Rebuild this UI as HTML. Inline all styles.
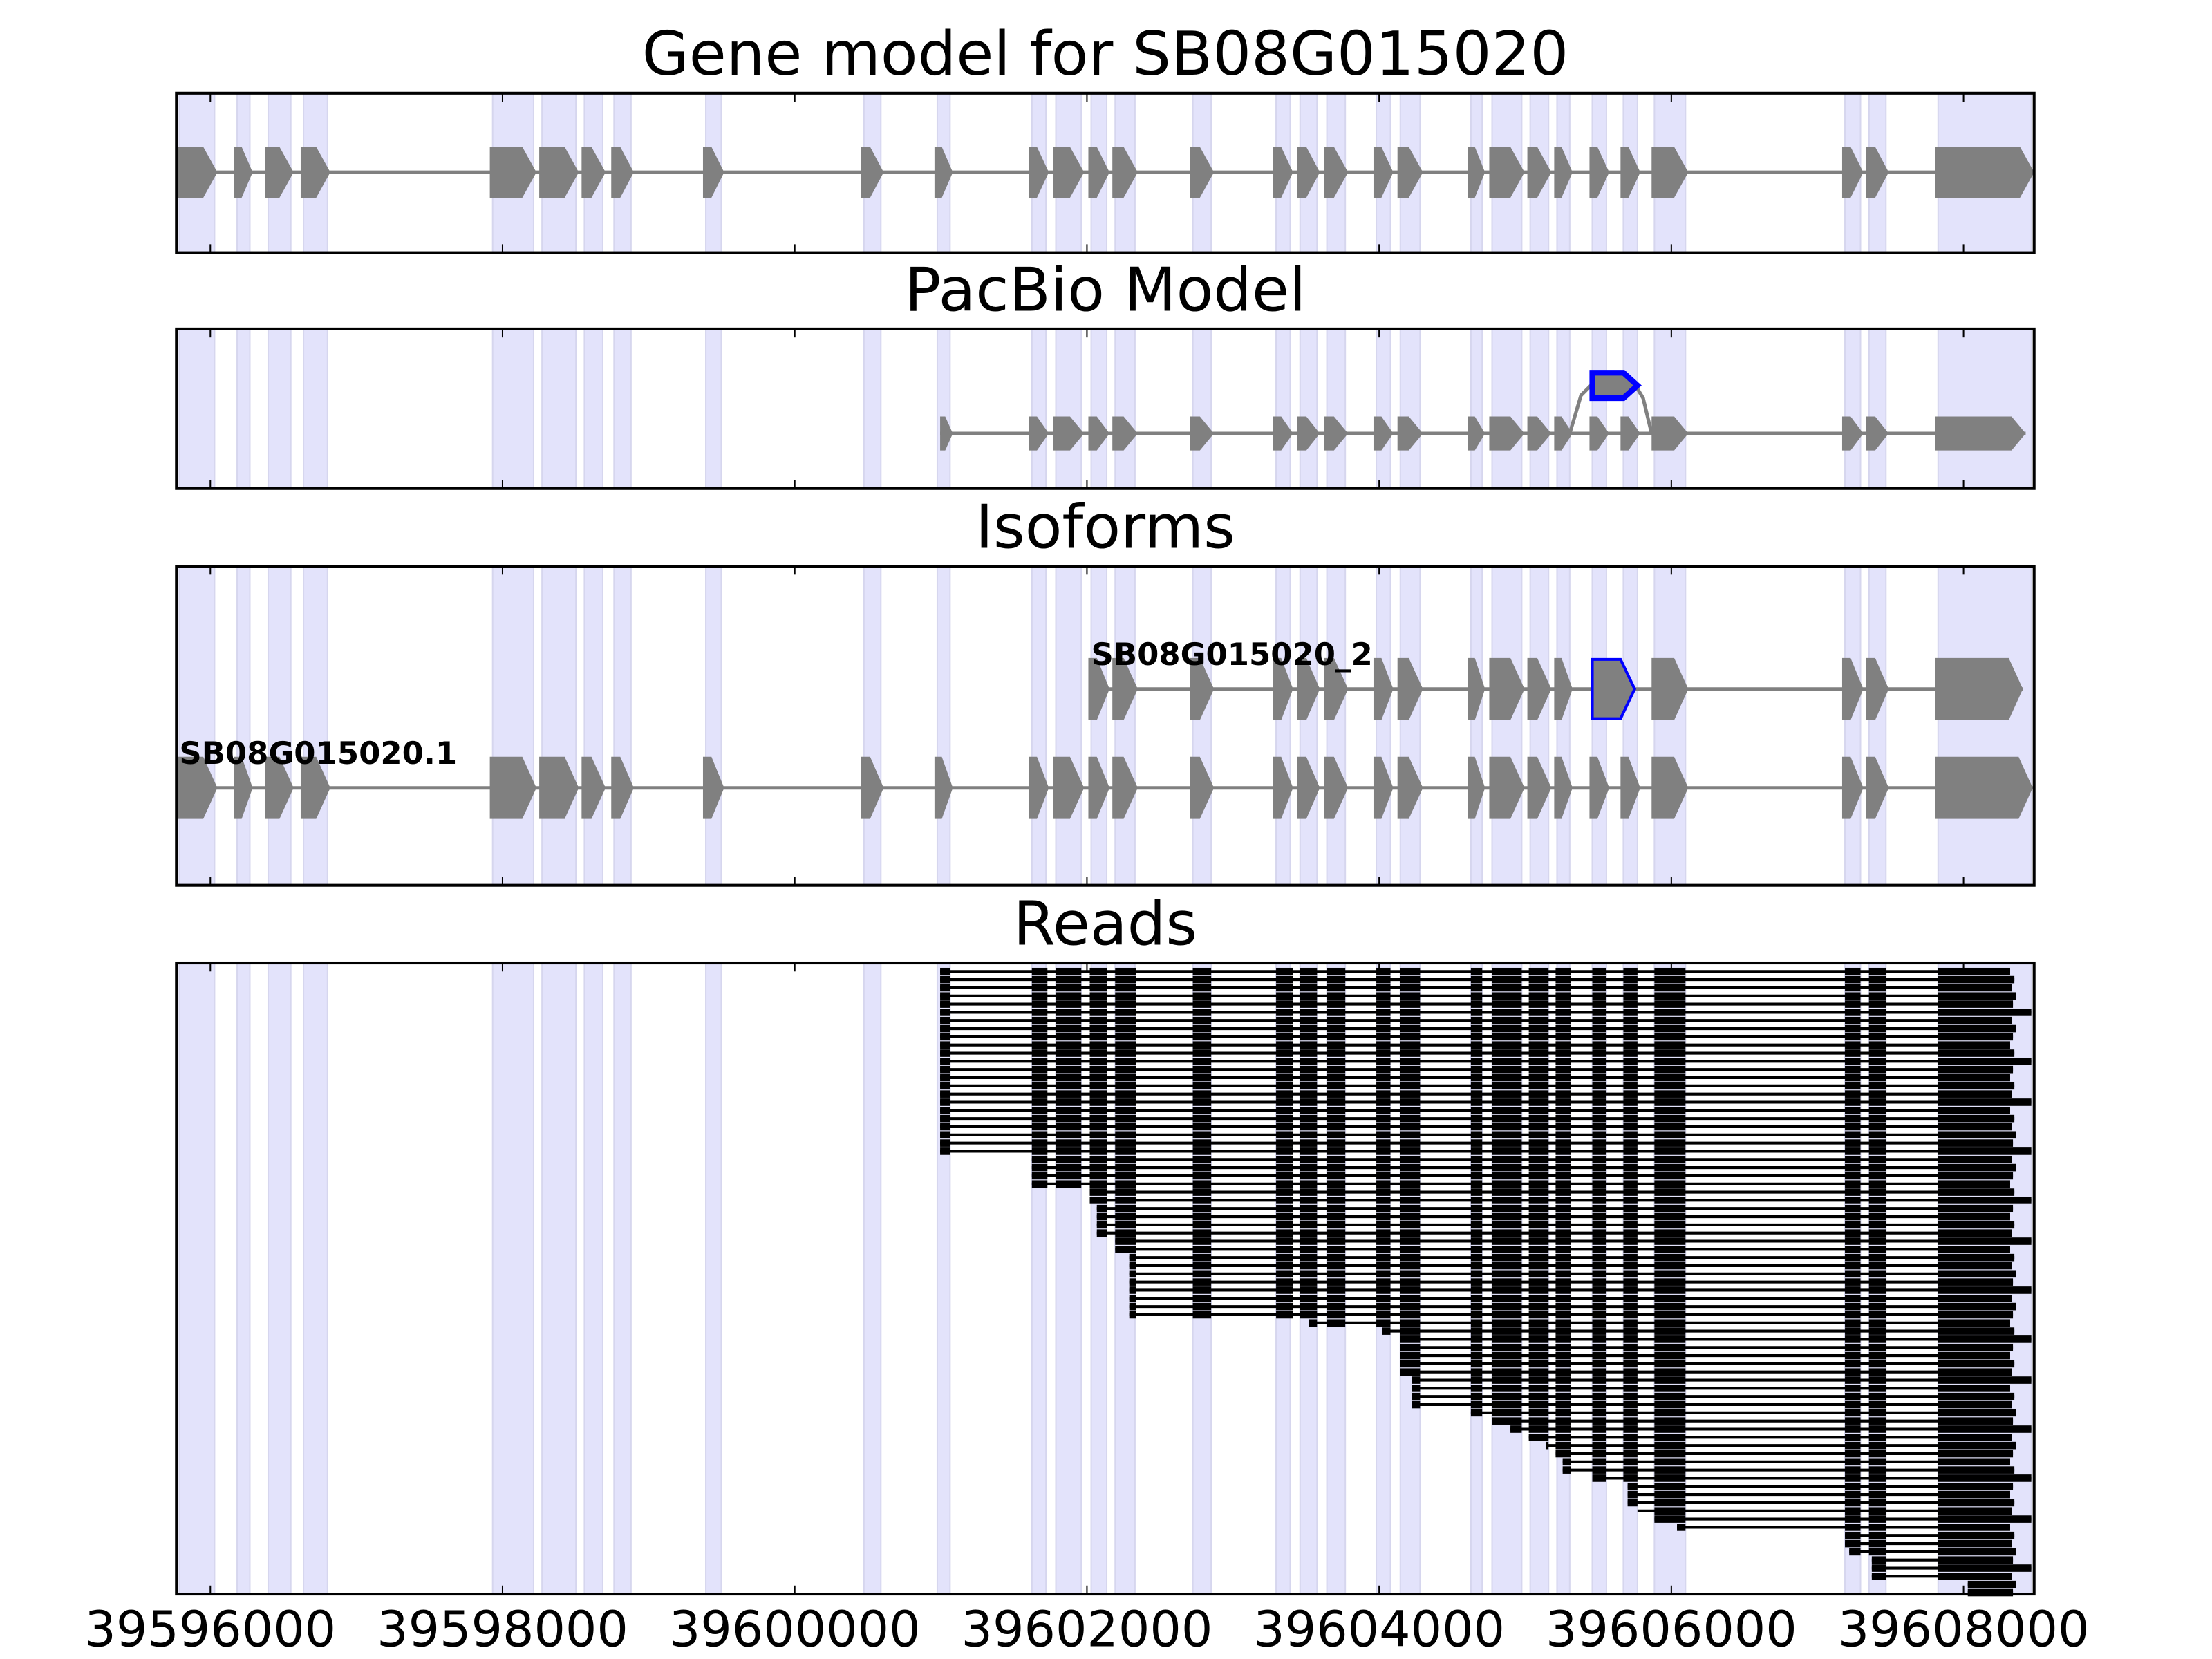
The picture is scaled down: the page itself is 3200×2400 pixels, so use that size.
<!DOCTYPE html>
<html><head><meta charset="utf-8"><style>html,body{margin:0;padding:0;background:#fff}svg{display:block}</style></head>
<body>
<svg id="s" xmlns="http://www.w3.org/2000/svg" width="3200" height="2400" viewBox="0 0 1567 1175" preserveAspectRatio="none" font-family="DejaVu Sans, Liberation Sans, sans-serif"></svg>
<script>
const S=document.getElementById('s');let h='';
const EX=[[125,154],[166,179],[188,208],[213,234],[347,380],[382,410],[412,429],[433,449],[498,513],[610,626],[662,675],[729,743],[746,768],[771,786],[788,806],[843,860],[902,916],[919,935],[938,955],[973,987],[990,1008],[1040,1052],[1055,1080],[1082,1099],[1101,1114],[1126,1140],[1148,1162],[1170,1196],[1305,1320],[1322,1338],[1371,1441]];
const P=[[66,179],[233,346],[401,627],[682,1129]];
const TX=[149,356,563,770,977,1184,1391],TL=['39596000','39598000','39600000','39602000','39604000','39606000','39608000'];
const T=[['Gene model for SB08G015020',53],['PacBio Model',220],['Isoforms',388],['Reads',669]];
function ex(a,b,c,hh,fill,stroke,sw){const w=b-a,hd=Math.min(10,w*0.6),t=c-hh/2,bt=c+hh/2;return `<polygon points="${a},${t} ${b-hd},${t} ${b},${c} ${b-hd},${bt} ${a},${bt}" fill="${fill}" stroke="${stroke||'none'}" stroke-width="${sw||0}"/>`;}
P.forEach(([y0,y1],i)=>{
 EX.forEach(([a,b])=>{const l=Math.max(a+2,127),r=Math.min(b-2,1440);h+=`<rect x="${l}" y="${y0}" width="${r-l}" height="${y1-y0}" fill="#e3e3fb" stroke="#d6d6ee" stroke-width="1"/>`;});
});
h+=`<line x1="125" y1="122" x2="1441" y2="122" stroke="#808080" stroke-width="2.5"/>`;
EX.forEach(([a,b])=>h+=ex(a,b,122,36,'#808080'));
const E2=EX.filter(e=>e[0]>=662);
h+=`<line x1="666" y1="307" x2="1435" y2="307" stroke="#808080" stroke-width="2.5"/>`;
E2.forEach(([a,b])=>{let aa=a==662?666:a,bb=b==1441?1435:b;h+=ex(aa,bb,307,24,'#808080');});
h+=`<polyline points="1112,307 1120,280 1128,272" fill="none" stroke="#808080" stroke-width="2.5"/><polyline points="1158,272 1164,282 1170,307" fill="none" stroke="#808080" stroke-width="2.5"/>`;
h+=ex(1128,1160,273,18,'#808080','#0000ff',4);
h+=`<line x1="772" y1="488" x2="1433" y2="488" stroke="#808080" stroke-width="2.5"/>`;
EX.filter(e=>e[0]>=771&&e[0]!=1126&&e[0]!=1148).forEach(([a,b])=>{let bb=b==1441?1433:b;h+=ex(a,bb,488,44,'#808080');});
h+=ex(1128,1158,488,42,'#808080','#0000ff',2);
h+=`<line x1="125" y1="558" x2="1440" y2="558" stroke="#808080" stroke-width="2.5"/>`;
EX.forEach(([a,b])=>{let bb=b==1441?1440:b;h+=ex(a,bb,558,44,'#808080');});
h+=`<text x="773" y="471" font-size="22" font-weight="bold">SB08G015020_2</text><text x="127" y="541" font-size="22" font-weight="bold">SB08G015020.1</text>`;
const starts=[];for(let i=0;i<23;i++)starts.push(666);
[731,731,731,731,772,772,777,777,777,777,790,790,800,800,800,800,800,800,800,800,927,979,992,992,992,992,992,1000,1000,1000,1000,1042,1057,1070,1083,1095,1102,1107,1107,1128,1153,1153,1153,1160,1172,1188,1307,1307,1310,1326,1326,1326,1394,1394].forEach(v=>starts.push(v));
const N=starts.length,sp=(1128-688)/(N-1);
const RE=[[666,673],[731,742],[748,766],[772,784],[790,805],[845,858],[904,916],[921,933],[940,953],[975,985],[992,1006],[1042,1050],[1057,1078],[1083,1097],[1102,1113],[1128,1138],[1150,1160],[1172,1194],[1307,1318],[1324,1336]];
for(let i=0;i<N;i++){const y=688+i*sp,s=starts[i];const r=(i*37)%17;const e=r>13?1439:1424+(r%5);
 h+=`<line x1="${s}" y1="${y}" x2="${e}" y2="${y}" stroke="#000" stroke-width="2"/>`;
 RE.forEach(([a,b])=>{if(b<s)return;const aa=Math.max(a,s);h+=`<rect x="${aa}" y="${y-2.6}" width="${b-aa}" height="5.2" fill="#000"/>`;});
 h+=`<rect x="${Math.max(1373,s)}" y="${y-2.6}" width="${e-Math.max(1373,s)}" height="5.2" fill="#000"/>`;
}
P.forEach(([y0,y1],i)=>{
 h+=`<rect x="125" y="${y0}" width="1316" height="${y1-y0}" fill="none" stroke="#000" stroke-width="2"/>`;
 TX.forEach(x=>h+=`<line x1="${x}" y1="${y0}" x2="${x}" y2="${y0+6}" stroke="#000" stroke-width="1"/><line x1="${x}" y1="${y1}" x2="${x}" y2="${y1-6}" stroke="#000" stroke-width="1"/>`);
 h+=`<text x="783" y="${T[i][1]}" font-size="43" text-anchor="middle">${T[i][0]}</text>`;
});
TX.forEach((x,k)=>h+=`<text x="${x}" y="1166" font-size="35" text-anchor="middle">${TL[k]}</text>`);
S.innerHTML=h;
</script>
</body></html>
